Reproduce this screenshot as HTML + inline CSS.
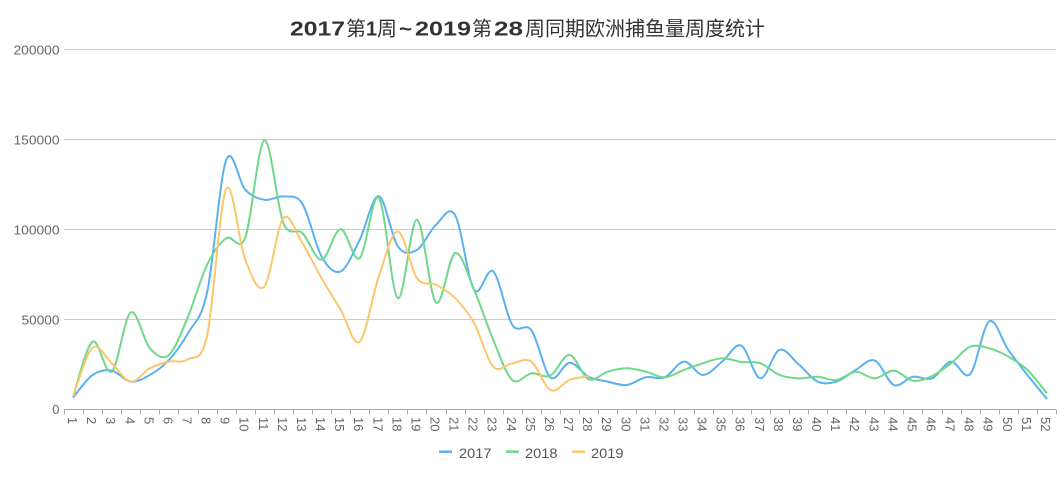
<!DOCTYPE html>
<html>
<head>
<meta charset="utf-8">
<style>
html,body{margin:0;padding:0;background:#fff;}
svg{display:block;}
text{font-family:"Liberation Sans","Noto Sans CJK SC",sans-serif;}
</style>
</head>
<body>
<svg id="c" width="1064" height="477" viewBox="0 0 1064 477" xmlns="http://www.w3.org/2000/svg">
<rect width="1064" height="477" fill="#fff"/>
<!-- title -->
<text y="35.5" font-size="20" fill="#333">
<tspan x="290" font-weight="bold" textLength="55" lengthAdjust="spacingAndGlyphs">2017</tspan><tspan x="346">第</tspan><tspan x="366" font-weight="bold" textLength="11" lengthAdjust="spacingAndGlyphs">1</tspan><tspan x="377">周</tspan><tspan x="399" font-weight="bold" textLength="13" lengthAdjust="spacingAndGlyphs">~</tspan><tspan x="415" font-weight="bold" textLength="56" lengthAdjust="spacingAndGlyphs">2019</tspan><tspan x="472">第</tspan><tspan x="494" font-weight="bold" textLength="29" lengthAdjust="spacingAndGlyphs">28</tspan><tspan x="525" textLength="240" lengthAdjust="spacingAndGlyphs">周同期欧洲捕鱼量周度统计</tspan>
</text>
<!-- grid -->
<g stroke="#ccc" stroke-width="1">
<line x1="64" y1="49.5" x2="1056" y2="49.5"/>
<line x1="64" y1="139.5" x2="1056" y2="139.5"/>
<line x1="64" y1="229.5" x2="1056" y2="229.5"/>
<line x1="64" y1="319.5" x2="1056" y2="319.5"/>
</g>
<g font-size="13" fill="#666" text-anchor="end">
<text x="59.5" y="54.5" textLength="46" lengthAdjust="spacingAndGlyphs">200000</text>
<text x="59.5" y="144.5" textLength="46" lengthAdjust="spacingAndGlyphs">150000</text>
<text x="59.5" y="234.5" textLength="46" lengthAdjust="spacingAndGlyphs">100000</text>
<text x="59.5" y="324.5" textLength="38" lengthAdjust="spacingAndGlyphs">50000</text>
<text x="59.5" y="414">0</text>
</g>
<g id="ticks" stroke="#aaa" stroke-width="1"></g>
<line x1="64" y1="409.5" x2="1056" y2="409.5" stroke="#aaa" stroke-width="1"/>
<g id="xl" font-size="13" fill="#666">
<text>1</text><text>2</text><text>3</text><text>4</text><text>5</text><text>6</text><text>7</text><text>8</text><text>9</text><text>10</text>
<text>11</text><text>12</text><text>13</text><text>14</text><text>15</text><text>16</text><text>17</text><text>18</text><text>19</text><text>20</text>
<text>21</text><text>22</text><text>23</text><text>24</text><text>25</text><text>26</text><text>27</text><text>28</text><text>29</text><text>30</text>
<text>31</text><text>32</text><text>33</text><text>34</text><text>35</text><text>36</text><text>37</text><text>38</text><text>39</text><text>40</text>
<text>41</text><text>42</text><text>43</text><text>44</text><text>45</text><text>46</text><text>47</text><text>48</text><text>49</text><text>50</text>
<text>51</text><text>52</text>
</g>
<g fill="none" stroke-width="2" stroke-linejoin="round" stroke-linecap="round">
<path id="s17" stroke="#5ab1ef"/>
<path id="s18" stroke="#6fd88a"/>
<path id="s19" stroke="#fcc66f"/>
</g>
<!-- legend -->
<g stroke-width="2.5">
<line x1="439" y1="451.7" x2="452" y2="451.7" stroke="#5ab1ef"/>
<line x1="506" y1="451.7" x2="519" y2="451.7" stroke="#6fd88a"/>
<line x1="572" y1="451.7" x2="585" y2="451.7" stroke="#fcc66f"/>
</g>
<g font-size="14" fill="#555">
<text x="459" y="458" textLength="32.5" lengthAdjust="spacingAndGlyphs">2017</text>
<text x="525" y="458" textLength="32.5" lengthAdjust="spacingAndGlyphs">2018</text>
<text x="591" y="458" textLength="32.5" lengthAdjust="spacingAndGlyphs">2019</text>
</g>
</svg>
<script>
(function(){
var NS="http://www.w3.org/2000/svg";
var step=992/52;
function X(i){return 64+(i+0.5)*step;}
function Y(v){return 409.5-v/200000*360;}
var tg=document.getElementById("ticks");
for(var k=0;k<=52;k++){
  var l=document.createElementNS(NS,"line");
  var x=Math.round(64+k*step)+0.5;
  l.setAttribute("x1",x);l.setAttribute("x2",x);
  l.setAttribute("y1",409.5);l.setAttribute("y2",414.5);
  tg.appendChild(l);
}
var labels=document.getElementById("xl").getElementsByTagName("text");
for(var i=0;i<labels.length;i++){
  var bx=X(i)-5.5, by=417;
  labels[i].setAttribute("x",0);labels[i].setAttribute("y",0);
  labels[i].setAttribute("transform","translate("+bx+","+by+") rotate(90)");
}
var d17=[7000,19200,21600,15500,19200,27500,42400,65000,138500,122100,116500,118400,114200,85000,76700,94300,118500,90600,88700,102600,108000,66500,76700,47000,44000,17800,26000,18200,15500,13600,17900,17900,26600,19200,26600,35500,17300,33100,25200,15500,15500,22000,27200,13600,18200,17300,26600,19700,49000,33100,19200,6200];
var d18=[8000,37700,21000,53900,34000,30300,51600,80400,95200,95500,149500,103600,98000,83200,100200,84100,117500,61900,105400,59400,86900,66500,38700,16400,20100,18900,30300,16800,21000,22900,21000,17900,22000,25700,28500,26400,25700,19200,17300,18200,16400,21000,17300,21600,16000,18600,25700,34900,34000,29400,22000,9300];
var d19=[8000,34400,25700,15500,22900,26600,27900,41000,122500,83200,68300,106300,92400,73000,55400,37700,73900,98900,73000,69300,61900,48000,23800,25700,26600,10800,16400,18600];
function path(data){
  var p=data.map(function(v,i){return [X(i),Y(v)];});
  var n=p.length,t=1/6;
  var str="M"+p[0][0].toFixed(2)+","+p[0][1].toFixed(2);
  for(var j=0;j<n-1;j++){
    var p0=p[j-1]||p[j],p1=p[j],p2=p[j+1],p3=p[j+2]||p[j+1];
    var c1=[p1[0]+(p2[0]-p0[0])*t,p1[1]+(p2[1]-p0[1])*t];
    var c2=[p2[0]-(p3[0]-p1[0])*t,p2[1]-(p3[1]-p1[1])*t];
    str+=" C"+c1[0].toFixed(2)+","+c1[1].toFixed(2)+" "+c2[0].toFixed(2)+","+c2[1].toFixed(2)+" "+p2[0].toFixed(2)+","+p2[1].toFixed(2);
  }
  return str;
}
document.getElementById("s17").setAttribute("d",path(d17));
document.getElementById("s18").setAttribute("d",path(d18));
document.getElementById("s19").setAttribute("d",path(d19));
})();
</script>
</body>
</html>
